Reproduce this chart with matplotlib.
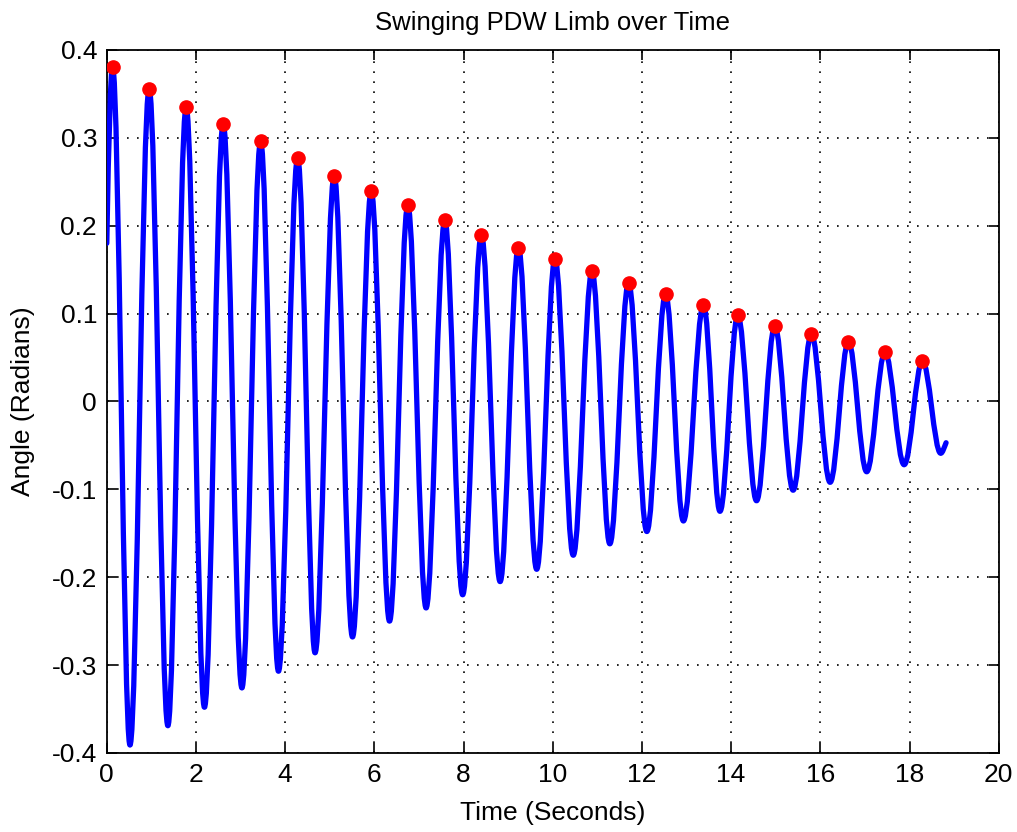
import numpy as np
import matplotlib
matplotlib.use("Agg")
import matplotlib.pyplot as plt
from matplotlib.path import Path
from matplotlib.patches import PathPatch

plt.rcParams['font.family'] = ['Liberation Sans', 'DejaVu Sans']
plt.rcParams['axes.unicode_minus'] = False

# peaks (red dots)
peak_t = [0.13, 0.95, 1.78, 2.61, 3.45, 4.28, 5.10, 5.93, 6.75, 7.58, 8.40, 9.23,
          10.05, 10.88, 11.70, 12.53, 13.38, 14.15, 14.98, 15.80, 16.63, 17.45, 18.29]
peak_y = [0.381, 0.356, 0.335, 0.316, 0.296, 0.277, 0.257, 0.239, 0.223, 0.206, 0.189, 0.175,
          0.162, 0.148, 0.135, 0.122, 0.110, 0.098, 0.086, 0.077, 0.068, 0.056, 0.046]

# troughs of the blue curve
trough_t = [0.52, 1.37, 2.19, 3.03, 3.85, 4.67, 5.51, 6.34, 7.16, 7.98, 8.82, 9.64,
            10.46, 11.28, 12.11, 12.93, 13.75, 14.57, 15.39, 16.22, 17.04, 17.88, 18.70]
trough_y = [-0.391, -0.369, -0.348, -0.326, -0.307, -0.286, -0.268, -0.250, -0.235, -0.220, -0.205, -0.191,
            -0.175, -0.162, -0.148, -0.136, -0.125, -0.113, -0.101, -0.092, -0.080, -0.072, -0.059]

start_t, start_y = 0.0, 0.18
end_t, end_y = 18.82, -0.047

xticks = list(range(0, 21, 2))
yticks = [-0.4, -0.3, -0.2, -0.1, 0, 0.1, 0.2, 0.3, 0.4]
ytick_labels = ['-0.4', '-0.3', '-0.2', '-0.1', '0', '0.1', '0.2', '0.3', '0.4']

fig = plt.figure(figsize=(10.17, 8.32), dpi=100)
ax = fig.add_axes([0.105, 0.095, 0.877, 0.845])

# extremes in time order
ext_t, ext_y = [], []
for pt, py, tt, ty in zip(peak_t, peak_y, trough_t, trough_y):
    ext_t += [pt, tt]
    ext_y += [py, ty]

# smooth curve through the extremes (flat tangent at each extreme)
verts = [(start_t, start_y)]
codes = [Path.MOVETO]
dt = ext_t[0] - start_t
verts += [(start_t + dt / 3, start_y + 0.6 * (ext_y[0] - start_y)), (ext_t[0] - dt / 3, ext_y[0]), (ext_t[0], ext_y[0])]
codes += [Path.CURVE4] * 3
k = 1 - 2 / np.pi
for i in range(len(ext_t) - 1):
    t0, y0, t1, y1 = ext_t[i], ext_y[i], ext_t[i + 1], ext_y[i + 1]
    a = k * (t1 - t0)
    verts += [(t0 + a, y0), (t1 - a, y1), (t1, y1)]
    codes += [Path.CURVE4] * 3
t0, y0 = ext_t[-1], ext_y[-1]
dt = end_t - t0
verts += [(t0 + dt / 3, y0), (end_t - dt / 3, end_y - 0.005), (end_t, end_y)]
codes += [Path.CURVE4] * 3

curve = PathPatch(Path(verts, codes), facecolor='none', edgecolor='#0000ff', lw=3.8,
                  joinstyle='round', capstyle='round', zorder=3)
ax.add_patch(curve)
ax.plot(peak_t, peak_y, 'o', color='#ff0000', markersize=9.5, zorder=4)

ax.set_xlim(0, 20)
ax.set_ylim(-0.4, 0.4)
ax.set_xticks(xticks)
ax.set_yticks(yticks)
ax.set_yticklabels(ytick_labels)
ax.tick_params(direction='in', top=True, right=True, length=7, width=1.2,
               labelsize=19, pad=7)
ax.grid(True, color='black', linestyle=(0, (1, 5)), linewidth=1.2)
for s in ax.spines.values():
    s.set_linewidth(1.3)

ax.set_title('Swinging PDW Limb over Time', fontsize=18.5, pad=14)
ax.set_xlabel('Time (Seconds)', fontsize=19, labelpad=10)
ax.set_ylabel('Angle (Radians)', fontsize=19, labelpad=12)

fig.savefig('out.png', dpi=100, facecolor='white')
